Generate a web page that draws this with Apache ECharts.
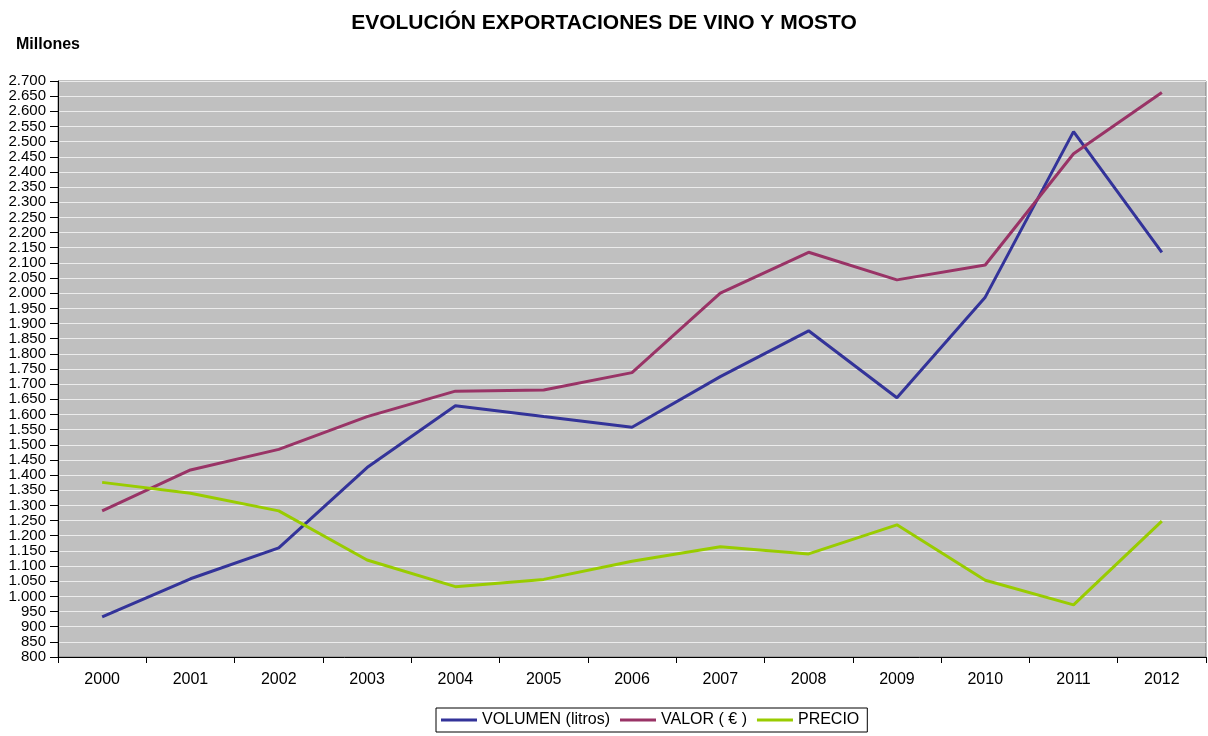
<!DOCTYPE html>
<html>
<head>
<meta charset="utf-8">
<script src="https://cdn.jsdelivr.net/npm/echarts@6/dist/echarts.min.js"></script>
<style>
  html, body { margin: 0; padding: 0; background: #fff; }
  #chart { width: 1208px; height: 736px; }
</style>
</head>
<body>
<div id="chart"></div>
<script>
// datos (millones)
var years = ['2000','2001','2002','2003','2004','2005','2006','2007','2008','2009','2010','2011','2012'];
var volumen = [932, 1058, 1160, 1425, 1629, 1593, 1558, 1725, 1876, 1655, 1987, 2533, 2135];
var valor = [1282, 1417, 1485, 1593, 1677, 1681, 1738, 2000, 2135, 2044, 2093, 2460, 2662];
var precio = [1376, 1340, 1282, 1120, 1032, 1056, 1116, 1164, 1140, 1236, 1053, 972, 1248];
var seriesNames = ['VOLUMEN (litros)', 'VALOR ( € )', 'PRECIO'];
var seriesColors = ['#333399', '#993366', '#99cc00'];

var myChart = echarts.init(document.getElementById('chart'));

function fmtMiles(v) {
    return String(v).replace(/\B(?=(\d{3})+(?!\d))/g, '.');
}

function lineSerie(i, data) {
    return {
        name: seriesNames[i],
        type: 'line',
        data: data,
        showSymbol: false,
        symbol: 'none',
        lineStyle: { color: seriesColors[i], width: 3 },
        itemStyle: { color: seriesColors[i] }
    };
}

var option = {
    animation: false,
    textStyle: { fontFamily: 'Liberation Sans, Arial, sans-serif' },
    title: [
        {
            text: 'EVOLUCIÓN EXPORTACIONES DE VINO Y MOSTO',
            left: 'center',
            top: 8,
            textStyle: { fontSize: 21, fontWeight: 'bold', color: '#000' }
        },
        {
            text: 'Millones',
            left: 11,
            top: 32,
            textStyle: { fontSize: 16, fontWeight: 'bold', color: '#000' }
        }
    ],
    legend: {
        left: 436,
        top: 708,
        data: seriesNames,
        icon: 'rect',
        itemWidth: 36,
        itemHeight: 3,
        itemGap: 10,
        padding: [4, 8, 4, 5],
        borderColor: '#000',
        borderWidth: 1,
        borderRadius: 0,
        textStyle: { fontSize: 16, color: '#000' }
    },
    grid: {
        left: 58,
        right: 2,
        top: 81,
        bottom: 79,
        show: true,
        backgroundColor: '#c0c0c0',
        borderColor: '#808080',
        borderWidth: 1
    },
    xAxis: {
        type: 'category',
        data: years,
        boundaryGap: true,
        axisLine: { show: true, lineStyle: { color: '#000', width: 1 } },
        axisTick: { show: true, length: 6, lineStyle: { color: '#000' } },
        axisLabel: { color: '#000', fontSize: 16, margin: 15 },
        splitLine: { show: false }
    },
    yAxis: {
        type: 'value',
        min: 800,
        max: 2700,
        interval: 50,
        axisLine: { show: true, lineStyle: { color: '#000', width: 1 } },
        axisTick: { show: true, length: 8, lineStyle: { color: '#000' } },
        axisLabel: {
            color: '#000',
            fontSize: 15,
            lineHeight: 15,
            margin: 12,
            showMinLabel: true,
            showMaxLabel: true,
            hideOverlap: false,
            formatter: fmtMiles
        },
        splitLine: { show: true, lineStyle: { color: '#ececec', width: 1 } }
    },
    series: [
        lineSerie(0, volumen),
        lineSerie(1, valor),
        lineSerie(2, precio)
    ]
};

myChart.setOption(option);
</script>
</body>
</html>
